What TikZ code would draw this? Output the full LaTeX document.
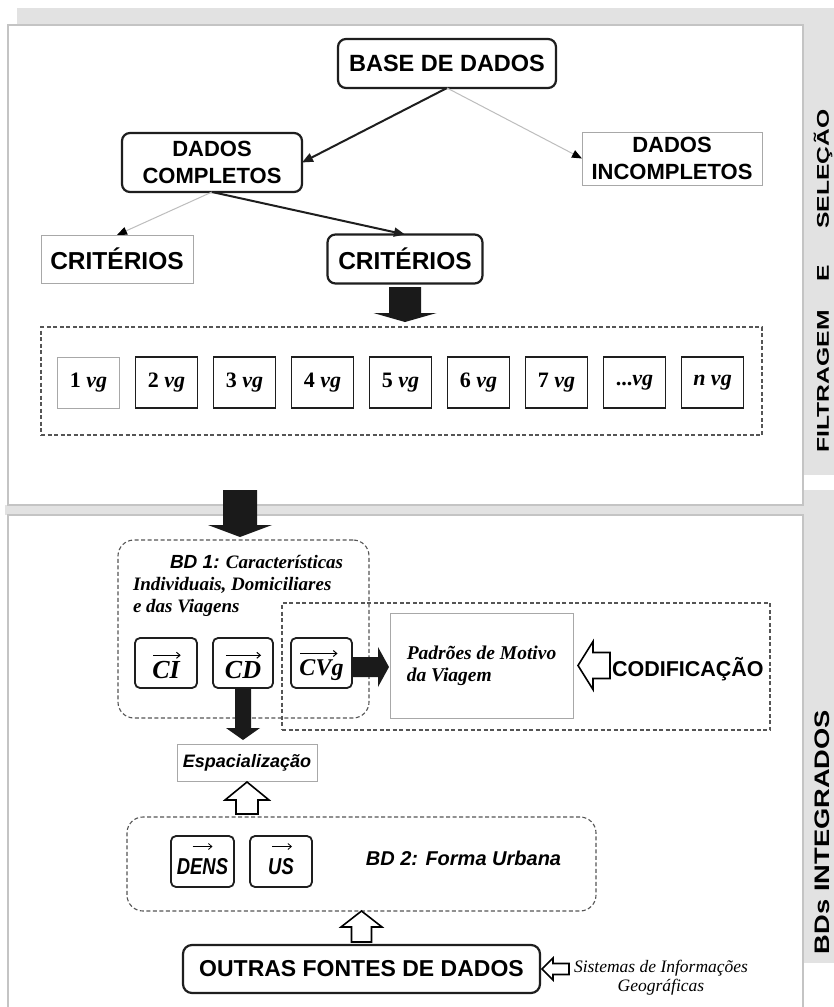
\documentclass[tikz,border=0pt]{standalone}
\usepackage{fontspec}
\setmainfont{Liberation Serif}
\setsansfont{Liberation Sans}
\newfontfamily\arial{Liberation Sans}
\newfontfamily\arialnarrow[FakeStretch=0.8]{Liberation Sans}
\usepackage{graphicx}
\usetikzlibrary{arrows.meta,calc}
\definecolor{boxdark}{HTML}{1E1E1E}
\definecolor{blockblack}{HTML}{1A1A1A}
\definecolor{dashgray}{HTML}{555555}
\definecolor{lightline}{HTML}{BDBDBD}
\definecolor{bandgray}{HTML}{E2E2E2}
\definecolor{panelline}{HTML}{C4C4C4}
\definecolor{thinline}{HTML}{A8A8A8}
\tikzset{
  every node/.style={inner sep=0pt, outer sep=0pt},
  thickbox/.style={draw=boxdark, line width=2.2pt, rounded corners=8pt, fill=white},
  thinbox/.style={draw=thinline, line width=1pt, fill=white},
  vgbox/.style={draw=boxdark, line width=1.6pt, fill=white, minimum width=62pt, minimum height=51pt, font=\bfseries\fontsize{22}{24}\selectfont},
  vecbox/.style={draw=boxdark, line width=1.8pt, rounded corners=5pt, fill=white, minimum height=50pt},
  vectext/.style={font=\bfseries\itshape\fontsize{26}{28}\selectfont},
  sansvectext/.style={font=\arialnarrow\bfseries\itshape\fontsize{23}{25}\selectfont},
  vecarrow/.style={draw=black, line width=1pt, -{Straight Barb[length=3.5pt,width=6pt]}},
  dashbox/.style={draw=dashgray, line width=1.1pt, dash pattern=on 4pt off 2.5pt},
  thinarrow/.style={draw=lightline, line width=1pt, -{Triangle[length=10pt,width=8pt,color=black]}},
  darkarrow/.style={draw=boxdark, line width=2pt, -{Triangle[length=11pt,width=9pt]}},
  blockarrow/.style={fill=blockblack, draw=none},
  hollowarrow/.style={fill=white, draw=black, line width=1.6pt, line join=miter},
  boldsans/.style={font=\arial\bfseries\fontsize{#1}{27}\selectfont},
}
\begin{document}
\begin{tikzpicture}[x=1pt,y=-1pt]
\useasboundingbox (0,0) rectangle (834,1007);
% background bands and panels
\fill[bandgray] (17,8) rectangle (834,25);
\fill[bandgray] (803,25) rectangle (834,475);
\fill[bandgray] (803,490) rectangle (834,963);
\fill[bandgray] (5,505) rectangle (803,515);
\draw[panelline, line width=1.8pt, fill=white] (8,25) rectangle (803,505);
\fill[white] (8,515) rectangle (803,1007);
\draw[panelline, line width=1.8pt] (8,1007) -- (8,515) -- (803,515) -- (803,1007);

% side labels
\node[rotate=90, boldsans=17] (fil) at (823,281)
  {\scalebox{1.45}[1]{FILTRAGEM\hspace{20pt}E\hspace{25pt}SELEÇÃO}};
\node[rotate=90, boldsans=21] (bdi) at (822,832)
  {\scalebox{1.3}[1]{BDs INTEGRADOS}};

% top part
\node[thickbox, minimum width=218pt, minimum height=49pt, boldsans=23.5] (base) at (447,63.5) {BASE DE DADOS};
\node[thickbox, minimum width=180pt, minimum height=59pt, align=center, boldsans=22] (dc) at (212,162.5) {DADOS\\COMPLETOS};
\node[thinbox, minimum width=180pt, minimum height=53pt, align=center, boldsans=22] (di) at (672,158.5) {DADOS\\INCOMPLETOS};
\node[thinbox, minimum width=152pt, minimum height=48pt, boldsans=24.5] (crit1) at (117,259) {CRITÉRIOS};
\node[thickbox, minimum width=155pt, minimum height=49pt, boldsans=24.5] (crit2) at (405,259) {CRITÉRIOS};

\draw[darkarrow] (base.south) -- (dc.east);
\draw[thinarrow] (base.south) -- (di.west);
\draw[thinarrow] (dc.south) -- (crit1.north);
\draw[darkarrow] (dc.south) -- (crit2.north);

\node[dashbox, minimum width=721pt, minimum height=108pt] (vgs) at (401.5,381) {};
\fill[blockarrow] (crit2.south) ++(-16,3.5) -- ++(32,0) -- ++(0,26) -- ++(15.5,0) -- ++(-31.5,9) -- ++(-31.5,-9) -- ++(15.5,0) -- cycle;

\node[vgbox, draw=thinline, line width=1pt] (v1) at (88.5,382.5) {1 \textit{vg}};
\node[vgbox] (v2) at (166.5,382.5) {2 \textit{vg}};
\node[vgbox] (v3) at (244.5,382.5) {3 \textit{vg}};
\node[vgbox] (v4) at (322.5,382.5) {4 \textit{vg}};
\node[vgbox] (v5) at (400.5,382.5) {5 \textit{vg}};
\node[vgbox] (v6) at (478.5,382.5) {6 \textit{vg}};
\node[vgbox] (v7) at (556.5,382.5) {7 \textit{vg}};
\node[vgbox] (v8) at (634.5,382.5) {...\textit{vg}};
\node[vgbox] (v9) at (712.5,382.5) {\textit{n vg}};

% arrow between panels
\fill[blockarrow] (223,490) -- (257,490) -- (257,525) -- (272,525) -- (240,537) -- (208,525) -- (223,525) -- cycle;

% bottom part
\node[dashbox, rounded corners=16pt, minimum width=251pt, minimum height=178pt] (bd1) at (243.5,629) {};
\node[dashbox, minimum width=488pt, minimum height=127pt] (cod) at (526,666.5) {};
\node[anchor=north west, align=left, font=\bfseries\itshape\fontsize{19}{22}\selectfont] (bd1lbl) at (133,555)
  {\hspace*{37pt}{\arial BD 1:} Características\\Individuais, Domiciliares\\e das Viagens};

\node[vecbox, minimum width=62pt] (ci) at (166,663) {};
\node[vecbox, minimum width=60pt] (cd) at (243,663) {};
\node[vecbox, minimum width=61pt] (cvg) at (321.5,663) {};
\node[vectext] (citxt) at ($(ci.center)+(0,7)$) {CI};
\node[vectext] (cdtxt) at ($(cd.center)+(0,7)$) {CD};
\node[vectext, font=\bfseries\itshape\fontsize{24}{26}\selectfont] (cvgtxt) at ($(cvg.center)+(0,7)$) {CVg};
\draw[vecarrow] ($(citxt.north west)+(1,-6)$) -- ($(citxt.north east)+(1,-6)$);
\draw[vecarrow] ($(cdtxt.north west)+(1,-6)$) -- ($(cdtxt.north east)+(0,-6)$);
\draw[vecarrow] ($(cvgtxt.north west)+(1,-6)$) -- ($(cvgtxt.north east)+(-6,-6)$);

\node[draw=thinline, line width=1pt, fill=white, minimum width=183pt, minimum height=105pt, align=left,
      font=\bfseries\itshape\fontsize{19.5}{22}\selectfont] (pad) at (481.5,665.5) {Padrões de Motivo\\da Viagem};

\fill[blockarrow] (cvg.east) ++(0,-6) -- ++(26,0) -- ++(0,-10) -- ++(11,20) -- ++(-11,20) -- ++(0,-10) -- ++(-26,0) -- cycle;
\draw[hollowarrow] (pad.east) ++(5,0) -- ++(15,-24) -- ++(0,11) -- ++(17,0) -- ++(0,26) -- ++(-17,0) -- ++(0,11) -- cycle;
\node[anchor=west, boldsans=21.5] (codlbl) at (612,669) {CODIFICAÇÃO};

\fill[blockarrow] (cd.south) ++(-8,0) -- ++(16,0) -- ++(0,40) -- ++(9,0) -- ++(-17,12) -- ++(-17,-12) -- ++(9,0) -- cycle;

\node[draw=thinline, line width=1pt, fill=white, minimum width=140pt, minimum height=37pt,
      font=\arial\bfseries\itshape\fontsize{18}{20}\selectfont] (esp) at (247,762.5) {Espacialização};

\node[dashbox, rounded corners=16pt, minimum width=469pt, minimum height=94pt] (bd2) at (361.5,864) {};
\draw[hollowarrow] (esp.south) ++(0,1) -- ++(22,18) -- ++(-11,0) -- ++(0,14) -- ++(-22,0) -- ++(0,-14) -- ++(-11,0) -- cycle;

\node[vecbox, minimum width=63pt, minimum height=51pt] (dens) at (202.5,861.5) {};
\node[vecbox, minimum width=62pt, minimum height=51pt] (us) at (281,861.5) {};
\node[sansvectext] (denstxt) at ($(dens.center)+(0,5)$) {DENS};
\node[sansvectext] (ustxt) at ($(us.center)+(0,5)$) {US};
\draw[vecarrow, line width=0.8pt] ($(dens.center)+(-10,-15)$) -- ($(dens.center)+(10,-15)$);
\draw[vecarrow, line width=0.8pt] ($(us.center)+(-9,-15)$) -- ($(us.center)+(11,-15)$);
\node[font=\arial\bfseries\itshape\fontsize{20}{22}\selectfont] (bd2lbl) at (463.5,858) {BD 2: Forma Urbana};

\node[thickbox, rounded corners=9pt, minimum width=357pt, minimum height=48pt, boldsans=23] (outras) at (361.5,969) {OUTRAS FONTES DE DADOS};
\draw[hollowarrow] (bd2.south) -- ++(20.5,16) -- ++(-10.5,0) -- ++(0,15) -- ++(-20,0) -- ++(0,-15) -- ++(-10.5,0) -- cycle;
\draw[hollowarrow] (outras.east) ++(2,0) -- ++(11,-11) -- ++(0,5.5) -- ++(16,0) -- ++(0,11) -- ++(-16,0) -- ++(0,5.5) -- cycle;
\node[align=center, font=\itshape\fontsize{17.5}{19}\selectfont] (sis) at (661,978) {Sistemas de Informações\\Geográficas};
\end{tikzpicture}
\end{document}
